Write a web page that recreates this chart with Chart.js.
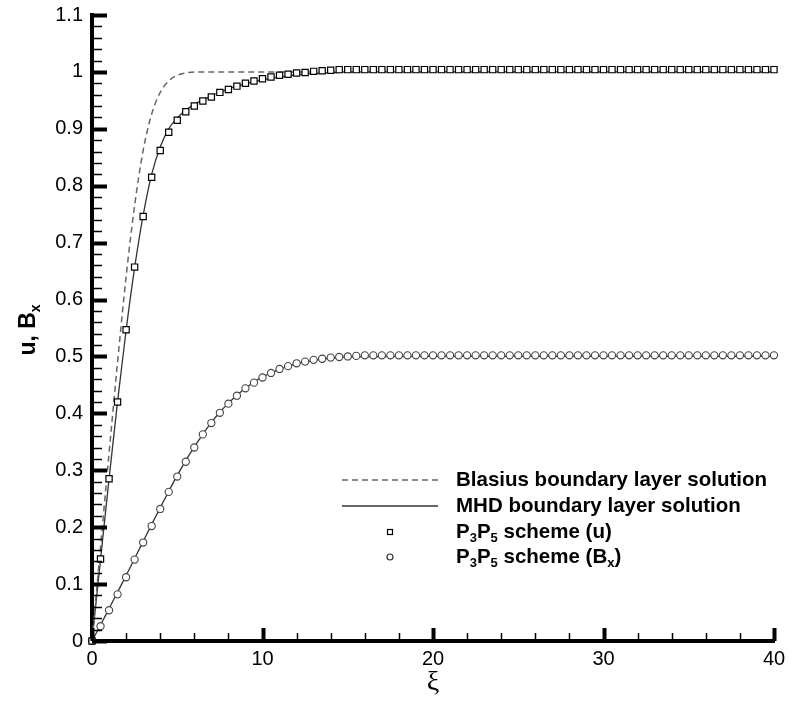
<!DOCTYPE html>
<html>
<head>
<meta charset="utf-8">
<script src="https://cdn.jsdelivr.net/npm/chart.js@4.4.1/dist/chart.umd.min.js"></script>
<style>
  html, body { margin: 0; padding: 0; background: #fff; }
  #wrap { width: 796px; height: 701px; }
</style>
</head>
<body>
<div id="wrap"><canvas id="chart" width="796" height="701"></canvas></div>
<script>
// --- DATA ---
// scheme sample points, every 0.5 in xi
const markerXi = [
    0, 0.5, 1, 1.5, 2, 2.5, 3, 3.5, 4, 4.5,
    5, 5.5, 6, 6.5, 7, 7.5, 8, 8.5, 9, 9.5,
    10, 10.5, 11, 11.5, 12, 12.5, 13, 13.5, 14, 14.5,
    15, 15.5, 16, 16.5, 17, 17.5, 18, 18.5, 19, 19.5,
    20, 20.5, 21, 21.5, 22, 22.5, 23, 23.5, 24, 24.5,
    25, 25.5, 26, 26.5, 27, 27.5, 28, 28.5, 29, 29.5,
    30, 30.5, 31, 31.5, 32, 32.5, 33, 33.5, 34, 34.5,
    35, 35.5, 36, 36.5, 37, 37.5, 38, 38.5, 39, 39.5,
    40
];
const uScheme = [
    0, 0.144, 0.285, 0.420, 0.547, 0.657, 0.746, 0.815, 0.862, 0.894,
    0.915, 0.930, 0.940, 0.949, 0.956, 0.964, 0.969, 0.975, 0.980, 0.984,
    0.988, 0.991, 0.994, 0.996, 0.998, 0.999, 1.001, 1.002, 1.003, 1.004,
    1.004, 1.004, 1.004, 1.004, 1.004, 1.004, 1.004, 1.004, 1.004, 1.004,
    1.004, 1.004, 1.004, 1.004, 1.004, 1.004, 1.004, 1.004, 1.004, 1.004,
    1.004, 1.004, 1.004, 1.004, 1.004, 1.004, 1.004, 1.004, 1.004, 1.004,
    1.004, 1.004, 1.004, 1.004, 1.004, 1.004, 1.004, 1.004, 1.004, 1.004,
    1.004, 1.004, 1.004, 1.004, 1.004, 1.004, 1.004, 1.004, 1.004, 1.004,
    1.004
];
const bxScheme = [
    0, 0.026, 0.054, 0.082, 0.112, 0.143, 0.173, 0.202, 0.232, 0.262,
    0.289, 0.315, 0.340, 0.363, 0.383, 0.401, 0.417, 0.431, 0.444, 0.454,
    0.463, 0.471, 0.478, 0.483, 0.488, 0.491, 0.494, 0.496, 0.498, 0.499,
    0.500, 0.501, 0.502, 0.502, 0.502, 0.502, 0.502, 0.502, 0.502, 0.502,
    0.502, 0.502, 0.502, 0.502, 0.502, 0.502, 0.502, 0.502, 0.502, 0.502,
    0.502, 0.502, 0.502, 0.502, 0.502, 0.502, 0.502, 0.502, 0.502, 0.502,
    0.502, 0.502, 0.502, 0.502, 0.502, 0.502, 0.502, 0.502, 0.502, 0.502,
    0.502, 0.502, 0.502, 0.502, 0.502, 0.502, 0.502, 0.502, 0.502, 0.502,
    0.502
];

// analytic curves
const lineXi = [
    0, 0.5, 1, 1.5, 2, 2.5, 3, 3.5, 4, 4.5,
    5, 5.5, 6, 6.5, 7, 7.5, 8, 8.5, 9, 9.5,
    10, 10.5, 11, 11.5, 12, 12.5, 13, 13.5, 14, 14.5,
    15, 20, 25, 30, 35, 40
];
const uBlasius = [
    0, 0.165, 0.330, 0.490, 0.640, 0.765, 0.862, 0.926, 0.964, 0.984,
    0.994, 0.998, 1, 1, 1, 1, 1, 1, 1, 1,
    1, 1, 1, 1, 1, 1, 1, 1, 1, 1,
    1, 1, 1, 1, 1, 1
];
const uMhd = [
    0, 0.143, 0.285, 0.421, 0.546, 0.656, 0.748, 0.820, 0.868, 0.900,
    0.919, 0.933, 0.943, 0.951, 0.958, 0.964, 0.970, 0.975, 0.979, 0.983,
    0.986, 0.989, 0.991, 0.993, 0.995, 0.996, 0.997, 0.998, 0.999, 0.999,
    1, 1, 1, 1, 1, 1
];
const bxMhd = [
    0, 0.028, 0.057, 0.086, 0.115, 0.145, 0.175, 0.205, 0.234, 0.263,
    0.291, 0.317, 0.341, 0.363, 0.384, 0.402, 0.418, 0.432, 0.444, 0.455,
    0.464, 0.471, 0.477, 0.483, 0.487, 0.490, 0.493, 0.495, 0.497, 0.498,
    0.499, 0.5, 0.5, 0.5, 0.5, 0.5
];

const FONT = "'Liberation Sans', Arial, Helvetica, sans-serif";
const toPts = (xs, ys) => xs.map((x, i) => ({ x, y: ys[i] }));
const isMajor = (v, step) => Math.abs(v / step - Math.round(v / step)) < 1e-6;

// draws text with subscript pieces, returns width
const drawRich = (ctx, parts, x, y, size, measureOnly) => {
    let cx = x;
    parts.forEach(p => {
        const fs = p.sub ? Math.round(size * 0.62) : size;
        ctx.font = `bold ${fs}px ${FONT}`;
        if (!measureOnly) ctx.fillText(p.t, cx, p.sub ? y + size * 0.3 : y);
        cx += ctx.measureText(p.t).width;
    });
    return cx - x;
};

// inward ticks, axis titles and the legend box
const decor = {
    id: 'decor',
    afterDraw(chart) {
        const { ctx, chartArea: area, scales } = chart;
        ctx.save();
        ctx.strokeStyle = '#000';
        ctx.lineCap = 'butt';

        scales.y.ticks.forEach(t => {
            const py = Math.round(scales.y.getPixelForValue(t.value)) + 0.5;
            const major = isMajor(t.value, 0.1);
            ctx.lineWidth = major ? 4 : 1.5;
            ctx.beginPath();
            ctx.moveTo(area.left, py);
            ctx.lineTo(area.left + (major ? 15 : 10), py);
            ctx.stroke();
        });
        scales.x.ticks.forEach(t => {
            const px = Math.round(scales.x.getPixelForValue(t.value)) + 0.5;
            const major = isMajor(t.value, 10);
            ctx.lineWidth = major ? 4 : 1.5;
            ctx.beginPath();
            ctx.moveTo(px, area.bottom);
            ctx.lineTo(px, area.bottom - (major ? 13 : 8));
            ctx.stroke();
        });

        // y title: u, B_x (rotated)
        ctx.fillStyle = '#000';
        ctx.textBaseline = 'middle';
        ctx.textAlign = 'left';
        const yTitle = [{ t: 'u, B' }, { t: 'x', sub: true }];
        const tw = drawRich(ctx, yTitle, 0, 0, 23, true);
        ctx.save();
        ctx.translate(29, 330);
        ctx.rotate(-Math.PI / 2);
        drawRich(ctx, yTitle, -tw / 2, 0, 23);
        ctx.restore();

        // x title
        ctx.font = `28px 'Liberation Serif', 'DejaVu Serif', serif`;
        ctx.textAlign = 'center';
        ctx.fillText('\u03be', (area.left + area.right) / 2, area.bottom + 42);

        // legend
        const lx0 = area.left + 250, lx1 = area.left + 346, mx = area.left + 298;
        const tx = area.left + 364;
        const rowY = [area.bottom - 161, area.bottom - 135, area.bottom - 109, area.bottom - 84];
        ctx.textAlign = 'left';

        ctx.strokeStyle = '#666';
        ctx.lineWidth = 1.5;
        ctx.setLineDash([6, 4]);
        ctx.beginPath(); ctx.moveTo(lx0, rowY[0]); ctx.lineTo(lx1, rowY[0]); ctx.stroke();
        ctx.setLineDash([]);
        ctx.strokeStyle = '#333';
        ctx.lineWidth = 1.3;
        ctx.beginPath(); ctx.moveTo(lx0, rowY[1]); ctx.lineTo(lx1, rowY[1]); ctx.stroke();

        ctx.strokeStyle = '#000';
        ctx.lineWidth = 1.2;
        ctx.fillStyle = '#fff';
        ctx.fillRect(mx - 2.5, rowY[2] - 2.5, 5, 5);
        ctx.strokeRect(mx - 2.5, rowY[2] - 2.5, 5, 5);
        ctx.strokeStyle = '#333';
        ctx.beginPath(); ctx.arc(mx, rowY[3], 3, 0, Math.PI * 2); ctx.fill(); ctx.stroke();

        ctx.fillStyle = '#000';
        const labels = [
            [{ t: 'Blasius boundary layer solution' }],
            [{ t: 'MHD boundary layer solution' }],
            [{ t: 'P' }, { t: '3', sub: true }, { t: 'P' }, { t: '5', sub: true }, { t: ' scheme (u)' }],
            [{ t: 'P' }, { t: '3', sub: true }, { t: 'P' }, { t: '5', sub: true }, { t: ' scheme (B' }, { t: 'x', sub: true }, { t: ')' }]
        ];
        labels.forEach((parts, i) => drawRich(ctx, parts, tx, rowY[i], 20.5));
        ctx.restore();
    }
};

new Chart(document.getElementById('chart'), {
    type: 'scatter',
    data: {
        datasets: [
            {
                label: 'P3P5 scheme (u)',
                data: toPts(markerXi, uScheme),
                pointStyle: 'rect',
                pointRadius: 4.4,
                pointBackgroundColor: '#fff',
                pointBorderColor: '#000',
                pointBorderWidth: 1.2,
                showLine: false,
                clip: false,
                order: 0
            },
            {
                label: 'P3P5 scheme (Bx)',
                data: toPts(markerXi, bxScheme),
                pointStyle: 'circle',
                pointRadius: 3.6,
                pointBackgroundColor: '#fff',
                pointBorderColor: '#444',
                pointBorderWidth: 1.1,
                showLine: false,
                clip: false,
                order: 0
            },
            {
                label: 'Blasius boundary layer solution',
                data: toPts(lineXi, uBlasius),
                showLine: true,
                pointRadius: 0,
                borderColor: '#666',
                borderWidth: 1.5,
                borderDash: [6, 4],
                cubicInterpolationMode: 'monotone',
                order: 1
            },
            {
                label: 'MHD boundary layer solution (u)',
                data: toPts(lineXi, uMhd),
                showLine: true,
                pointRadius: 0,
                borderColor: '#333',
                borderWidth: 1.3,
                cubicInterpolationMode: 'monotone',
                order: 1
            },
            {
                label: 'MHD boundary layer solution (Bx)',
                data: toPts(lineXi, bxMhd),
                showLine: true,
                pointRadius: 0,
                borderColor: '#333',
                borderWidth: 1.3,
                cubicInterpolationMode: 'monotone',
                order: 1
            }
        ]
    },
    options: {
        responsive: false,
        animation: false,
        layout: { padding: { left: 0, top: 15, right: 22, bottom: 0 } },
        plugins: { legend: { display: false }, tooltip: { enabled: false } },
        scales: {
            x: {
                type: 'linear', min: 0, max: 40,
                afterFit: s => { s.height = 60; s.paddingLeft = 0; s.paddingRight = 0; },
                grid: { display: false, drawTicks: false },
                border: { display: true, color: '#000', width: 4 },
                ticks: {
                    stepSize: 2, autoSkip: false, maxRotation: 0, padding: 6, color: '#000',
                    font: { family: FONT, size: 20 },
                    callback: v => isMajor(v, 10) ? String(v) : ''
                }
            },
            y: {
                type: 'linear', min: 0, max: 1.1,
                afterFit: s => { s.width = 92; s.paddingTop = 0; s.paddingBottom = 0; },
                grid: { display: false, drawTicks: false },
                border: { display: true, color: '#000', width: 4 },
                ticks: {
                    stepSize: 0.02, autoSkip: false, padding: 9, color: '#000',
                    font: { family: FONT, size: 20 },
                    callback: v => isMajor(v, 0.1) ? String(+v.toFixed(2)) : ''
                }
            }
        }
    },
    plugins: [decor]
});
</script>
</body>
</html>
